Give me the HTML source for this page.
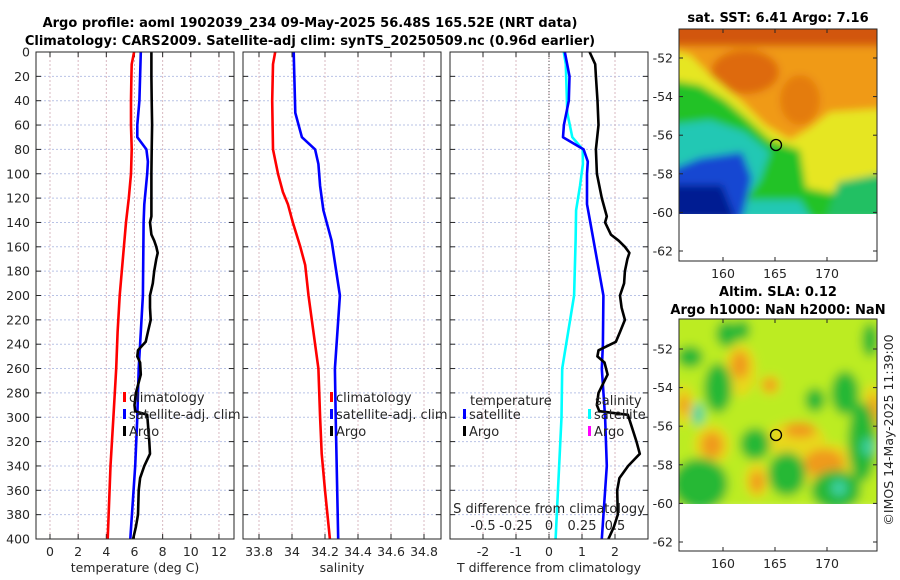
<!DOCTYPE html>
<html><head><meta charset="utf-8"><style>
html,body{margin:0;padding:0;background:#fff;}
svg{display:block;font-family:"DejaVu Sans","Liberation Sans",sans-serif;}
.tk{font-size:12.5px;fill:#262626;}
.ttl{font-size:13px;font-weight:bold;fill:#000;}
</style></head><body>
<svg id="fig" width="900" height="580" viewBox="0 0 900 580">
<defs>
<filter id="bl" x="-5%" y="-5%" width="110%" height="110%"><feGaussianBlur stdDeviation="4"/></filter>
<filter id="bl2" x="-5%" y="-5%" width="110%" height="110%"><feGaussianBlur stdDeviation="5"/></filter>
<clipPath id="c1"><rect x="679" y="29" width="198" height="185"/></clipPath>
<clipPath id="c2"><rect x="679" y="319" width="198" height="185"/></clipPath>
</defs>
<text class="ttl" x="310" y="27" text-anchor="middle">Argo profile: aoml 1902039_234 09-May-2025 56.48S 165.52E (NRT data)</text>
<text class="ttl" x="310" y="45" text-anchor="middle">Climatology: CARS2009. Satellite-adj clim: synTS_20250509.nc (0.96d earlier)</text>

<g id="map1">
<text class="ttl" x="778" y="22" text-anchor="middle">sat. SST: 6.41 Argo: 7.16</text>
<g clip-path="url(#c1)">
<g filter="url(#bl)">
<rect x="670" y="20" width="220" height="200" fill="#f09a14"/>
<rect x="670" y="20" width="220" height="26" fill="#d2560a"/>
<ellipse cx="745" cy="72" rx="34" ry="22" fill="#de6a0c"/>
<ellipse cx="800" cy="100" rx="20" ry="25" fill="#e47c10"/>
<polygon points="670,50 690,55 710,75 740,100 765,125 790,140 810,128 830,112 890,108 890,220 670,220" fill="#e6e622"/>
<polygon points="670,80 700,85 725,100 745,117 770,140 800,150 806,188 830,193 890,178 890,220 670,220" fill="#22c226"/>
<polygon points="670,125 710,120 745,132 770,152 760,180 745,200 800,200 812,220 670,220" fill="#22c8b4"/>
<polygon points="670,170 700,158 742,152 752,178 742,220 670,220" fill="#1446d2"/>
<polygon points="670,185 722,185 736,220 670,220" fill="#041a92"/>
<polygon points="838,182 890,172 890,220 826,220" fill="#22c064"/>
</g>
</g>
<rect x="679" y="29" width="198" height="232" fill="none" stroke="#262626" stroke-width="1"/>
<circle cx="776" cy="145" r="5.5" fill="none" stroke="#000" stroke-width="1.3"/>
<g id="m1ticks"></g>
</g>

<g id="map2">
<text class="ttl" x="778" y="296" text-anchor="middle">Altim. SLA: 0.12</text>
<text class="ttl" x="778" y="314" text-anchor="middle">Argo h1000: NaN h2000: NaN</text>
<g clip-path="url(#c2)">
<g filter="url(#bl2)">
<rect x="670" y="310" width="220" height="200" fill="#bcec22"/>
<g fill="#e8d81e">
<ellipse cx="740" cy="370" rx="16" ry="26"/><ellipse cx="795" cy="440" rx="30" ry="18"/><ellipse cx="830" cy="468" rx="30" ry="24"/><ellipse cx="712" cy="445" rx="18" ry="20"/><ellipse cx="684" cy="405" rx="10" ry="20"/><ellipse cx="872" cy="410" rx="10" ry="26"/><ellipse cx="757" cy="480" rx="12" ry="18"/><ellipse cx="770" cy="385" rx="10" ry="10"/>
</g>
<g fill="#f09a1a">
<ellipse cx="740" cy="365" rx="9" ry="14"/><ellipse cx="770" cy="385" rx="7" ry="7"/><ellipse cx="800" cy="430" rx="16" ry="8"/><ellipse cx="824" cy="463" rx="20" ry="14"/><ellipse cx="712" cy="445" rx="11" ry="13"/><ellipse cx="757" cy="482" rx="7" ry="11"/><ellipse cx="874" cy="410" rx="5" ry="16"/><ellipse cx="684" cy="405" rx="5" ry="10"/>
</g>
<g fill="#26b834">
<ellipse cx="727" cy="334" rx="11" ry="13"/><ellipse cx="690" cy="357" rx="13" ry="11"/><ellipse cx="718" cy="388" rx="14" ry="25"/><ellipse cx="755" cy="444" rx="15" ry="16"/><ellipse cx="787" cy="474" rx="19" ry="22"/><ellipse cx="700" cy="484" rx="28" ry="26"/><ellipse cx="836" cy="490" rx="25" ry="20"/><ellipse cx="862" cy="442" rx="14" ry="40"/><ellipse cx="845" cy="393" rx="14" ry="22"/><ellipse cx="870" cy="340" rx="8" ry="17"/><ellipse cx="815" cy="400" rx="10" ry="12"/><ellipse cx="742" cy="330" rx="8" ry="10"/>
</g>
<g fill="#3cd2a4">
<ellipse cx="839" cy="488" rx="8" ry="8"/><ellipse cx="868" cy="447" rx="6" ry="9"/><ellipse cx="698" cy="414" rx="6" ry="11"/>
</g>
</g>
</g>
<rect x="679" y="319" width="198" height="232" fill="none" stroke="#262626" stroke-width="1"/>
<circle cx="776" cy="435" r="5.5" fill="none" stroke="#000" stroke-width="1.3"/>
<g id="m2ticks"></g>
</g>
<text class="tk" transform="translate(893,430) rotate(-90)" text-anchor="middle">©IMOS 14-May-2025 11:39:00</text>

<g id="p1"></g>
<g id="p2"></g>
<g id="p3"></g>
</svg>
<script>
// ---- data ----
const depthTicks = [0,20,40,60,80,100,120,140,160,180,200,220,240,260,280,300,320,340,360,380,400];
const tempTicks = [0,2,4,6,8,10,12];
const salTicks = [33.8,34,34.2,34.4,34.6,34.8];
const tDiffTicks = [-2,-1,0,1,2];
const sDiffTicks = [-0.5,-0.25,0,0.25,0.5];
const sDiffTickLabels = ["-0.5","-0.25","0","0.25","0.5"];

const climTDepth = [0,10,20,40,60,80,100,120,140,160,180,200,230,260,300,340,400];
const climT = [5.97,5.8,5.78,5.75,5.75,5.8,5.75,5.6,5.4,5.25,5.1,4.95,4.8,4.7,4.5,4.3,4.1];
const satTDepth = [0,20,40,60,70,80,90,100,125,140,200,240,260,300,340,400];
const satT = [6.45,6.4,6.35,6.2,6.2,6.85,6.95,6.9,6.7,6.65,6.6,6.4,6.3,6.2,6.05,5.7];
const argoDepth = [0,10,20,40,60,80,100,120,135,140,150,155,160,165,170,180,190,200,210,220,230,238,245,250,255,265,280,290,295,298,320,330,340,350,360,380,390,400];
const argoT = [7.2,7.2,7.2,7.22,7.25,7.22,7.2,7.2,7.2,7.1,7.2,7.4,7.55,7.65,7.55,7.4,7.3,7.1,7.1,7.15,6.95,6.8,6.25,6.2,6.4,6.45,6.1,6.0,6.05,6.9,7.05,7.1,6.7,6.4,6.3,6.25,6.1,5.9];
const climSDepth = [0,10,40,80,100,115,125,140,160,175,200,260,300,330,360,400];
const climS = [33.898,33.885,33.88,33.885,33.915,33.945,33.975,34.005,34.05,34.08,34.1,34.16,34.17,34.18,34.2,34.23];
const satSDepth = [0,10,50,70,80,92,110,130,155,200,260,300,400];
const satS = [34.01,34.012,34.02,34.06,34.14,34.16,34.17,34.19,34.24,34.29,34.26,34.265,34.28];
const latTicks = [-52,-54,-56,-58,-60,-62];
const lonTicks = [160,165,170];

// ---- helpers ----
const NS = "http://www.w3.org/2000/svg";
function mk(parent, tag, attrs, txt){const e=document.createElementNS(NS,tag);for(const k in attrs)e.setAttribute(k,attrs[k]);if(txt!==undefined)e.textContent=txt;parent.appendChild(e);return e;}
const TOP=52, BOT=539;
const yD = d => TOP + (BOT-TOP)*d/400;
function interp(xs, ys, x){for(let i=0;i<xs.length-1;i++){if(x>=xs[i]&&x<=xs[i+1]){const t=(x-xs[i])/(xs[i+1]-xs[i]);return ys[i]+t*(ys[i+1]-ys[i]);}}return x<xs[0]?ys[0]:ys[ys.length-1];}

function frame(g, L, R, xTicks, xf, labels, showY, xlabel){
  mk(g,'rect',{x:L,y:TOP,width:R-L,height:BOT-TOP,fill:'#fff'});
  depthTicks.forEach(d=>{
    const l=mk(g,'line',{x1:L,x2:R,y1:yD(d),y2:yD(d),stroke:'#b9c3e6','stroke-width':1,'stroke-dasharray':'2,2'});
    
    
    mk(g,'line',{x1:L,x2:L+5,y1:yD(d),y2:yD(d),stroke:'#262626'});
    mk(g,'line',{x1:R-5,x2:R,y1:yD(d),y2:yD(d),stroke:'#262626'});
    if(showY){const t=mk(g,'text',{x:L-6,y:yD(d)+4.5,'text-anchor':'end',class:'tk'},String(d));
      
      }
  });
  xTicks.forEach((v,i)=>{
    const x=xf(v);
    mk(g,'line',{x1:x,x2:x,y1:TOP,y2:BOT,stroke:'#d8b8c0','stroke-width':1,'stroke-dasharray':'2,2'});
    mk(g,'line',{x1:x,x2:x,y1:BOT-5,y2:BOT,stroke:'#262626'});
    mk(g,'line',{x1:x,x2:x,y1:TOP,y2:TOP+5,stroke:'#262626'});
    const t=mk(g,'text',{x:x,y:BOT+17,'text-anchor':'middle',class:'tk'},labels[i]);
    
    
  });
  const xl=mk(g,'text',{x:(L+R)/2,y:BOT+33,'text-anchor':'middle',class:'tk'},xlabel);
  
  
}
function border(g,L,R){mk(g,'rect',{x:L,y:TOP,width:R-L,height:BOT-TOP,fill:'none',stroke:'#262626','stroke-width':1});}
function line(g, xs, ds, xf, color, name){
  const pts = xs.map((v,i)=>xf(v).toFixed(1)+','+yD(ds[i]).toFixed(1)).join(' ');
  const p=mk(g,'polyline',{points:pts,fill:'none',stroke:color,'stroke-width':2.6,'stroke-linejoin':'round'});
  
  
}
function legend(g, x, y, items){
  items.forEach((it,i)=>{
    mk(g,'rect',{x:x,y:y+i*17-9,width:3,height:10,fill:it[1]});
    const t=mk(g,'text',{x:x+6,y:y+i*17+1,class:'tk',style:'font-size:13px'},it[0]);
    
    
  });
}

// Panel 1 temperature
const p1=document.getElementById('p1');
const xT = v => 50 + 14.08*v;
frame(p1,36,234,tempTicks,xT,tempTicks.map(String),true,'temperature (deg C)');
line(p1,climT,climTDepth,xT,'#ff0000','temp-climatology-line');
line(p1,satT,satTDepth,xT,'#0000ff','temp-satellite-line');
line(p1,argoT,argoDepth,xT,'#000000','temp-argo-line');
border(p1,36,234);
legend(p1,123,401,[['climatology','#ff0000'],['satellite-adj. clim','#0000ff'],['Argo','#000']]);

// Panel 2 salinity
const p2=document.getElementById('p2');
const xS = v => 259 + 165*(v-33.8);
frame(p2,243,441,salTicks,xS,salTicks.map(String),false,'salinity');
line(p2,climS,climSDepth,xS,'#ff0000','sal-climatology-line');
line(p2,satS,satSDepth,xS,'#0000ff','sal-satellite-line');
border(p2,243,441);
legend(p2,330,401,[['climatology','#ff0000'],['satellite-adj. clim','#0000ff'],['Argo','#000']]);

// Panel 3 differences
const p3=document.getElementById('p3');
const xDT = v => 549 + 33*v;
const xDS = v => 549 + 132*v;
frame(p3,450,648,tDiffTicks,xDT,tDiffTicks.map(String),false,'T difference from climatology');
mk(p3,'line',{x1:549,x2:549,y1:TOP,y2:BOT,stroke:'#555','stroke-width':1,'stroke-dasharray':'1,2'});
const sDiff = satS.map((v,i)=>v-interp(climSDepth,climS,satSDepth[i]));
const satTDiff = satT.map((v,i)=>v-interp(climTDepth,climT,satTDepth[i]));
const argoTDiff = argoT.map((v,i)=>v-interp(climTDepth,climT,argoDepth[i]));
line(p3,sDiff,satSDepth,xDS,'#00ffff','sal-diff-satellite-line');
line(p3,satTDiff,satTDepth,xDT,'#0000ff','temp-diff-satellite-line');
line(p3,argoTDiff,argoDepth,xDT,'#000000','temp-diff-argo-line');
border(p3,450,648);
const th=mk(p3,'text',{x:470,y:405,class:'tk',style:'font-size:13px'},'temperature');


const sh=mk(p3,'text',{x:595,y:405,class:'tk',style:'font-size:13px'},'salinity');


legend(p3,463,418,[['satellite','#0000ff'],['Argo','#000']]);
legend(p3,588,418,[['satellite','#00ffff'],['Argo','#ff00ff']]);
const st=mk(p3,'text',{x:549,y:513,'text-anchor':'middle',class:'tk',style:'font-size:13px'},'S difference from climatology');


sDiffTicks.forEach((v,i)=>{
  const t=mk(p3,'text',{x:xDS(v),y:530,'text-anchor':'middle',class:'tk',style:'font-size:13px'},sDiffTickLabels[i]);
  
  
});

// map ticks
function mapTicks(gid, top, bot, latTop){
  const g=document.getElementById(gid);
  const yL = la => latTop + (la+52)*(-19.3);
  latTicks.forEach(la=>{
    const y=yL(la);
    mk(g,'line',{x1:679,x2:683,y1:y,y2:y,stroke:'#262626'});
    mk(g,'line',{x1:873,x2:877,y1:y,y2:y,stroke:'#262626'});
    const t=mk(g,'text',{x:673,y:y+4.5,'text-anchor':'end',class:'tk'},String(la));
    
    
  });
  lonTicks.forEach(lo=>{
    const x=723+(lo-160)*10.4;
    mk(g,'line',{x1:x,x2:x,y1:bot-4,y2:bot,stroke:'#262626'});
    mk(g,'line',{x1:x,x2:x,y1:top,y2:top+4,stroke:'#262626'});
    const t=mk(g,'text',{x:x,y:bot+17,'text-anchor':'middle',class:'tk'},String(lo));
    
    
  });
}
mapTicks('m1ticks',29,261,58);
mapTicks('m2ticks',319,551,349);
</script>
</body></html>
